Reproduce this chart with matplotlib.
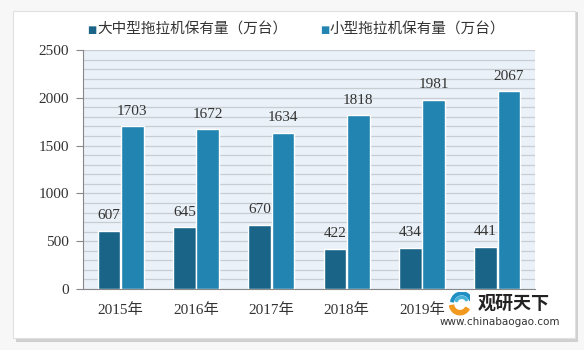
import matplotlib.pyplot as plt
from matplotlib.patches import Rectangle, Wedge
import numpy as np

plt.rcParams['font.family'] = ['Liberation Serif', 'Noto Sans CJK SC']

years = ['2015年', '2016年', '2017年', '2018年', '2019年', '2020年']
large = [607, 645, 670, 422, 434, 441]
small = [1703, 1672, 1634, 1818, 1981, 2067]
labels = ['大中型拖拉机保有量（万台）', '小型拖拉机保有量（万台）']

c_dark = '#1a6587'
c_light = '#2284b0'

fig = plt.figure(figsize=(5.84, 3.5), dpi=100)
fig.patch.set_facecolor('#f7f7f7')

# card frame with shadow
fig.patches.append(Rectangle((16 / 584, 1 - 342 / 350), 562 / 584, 330 / 350,
                             transform=fig.transFigure, facecolor='#d0d0d0',
                             edgecolor='none', zorder=-10))
fig.patches.append(Rectangle((13 / 584, 1 - 338 / 350), 562 / 584, 327 / 350,
                             transform=fig.transFigure, facecolor='white',
                             edgecolor='#e0e0e0', lw=0.8, zorder=-9))

ax = fig.add_axes([83 / 584, 1 - 289 / 350, 452 / 584, 239 / 350])
ax.set_facecolor('#eaf1f8')
x = np.arange(len(years))
w = 0.30
b1 = ax.bar(x - w / 2 - 0.005, large, w, color=c_dark, edgecolor='white', lw=1, zorder=3)
b2 = ax.bar(x + w / 2 + 0.005, small, w, color=c_light, edgecolor='white', lw=1, zorder=3)

for rect, v in zip(b1, large):
    ax.text(rect.get_x() + rect.get_width() / 2, v + 90, str(v), ha='center',
            va='bottom', fontsize=11, color='#333333', zorder=4)
for rect, v in zip(b2, small):
    ax.text(rect.get_x() + rect.get_width() / 2, v + 90, str(v), ha='center',
            va='bottom', fontsize=11, color='#333333', zorder=4)

ax.set_ylim(0, 2500)
ax.set_xlim(-0.5, 5.5)
ax.set_yticks(range(0, 2501, 500))
ax.set_yticks(range(0, 2501, 100), minor=True)
ax.grid(axis='y', which='both', color='#c8cdd2', lw=0.9, zorder=0)
ax.tick_params(axis='y', which='minor', length=0)
ax.tick_params(axis='y', which='major', length=5, color='#888888', labelsize=11,
               labelcolor='#333333', pad=5)
ax.set_xticks(x)
ax.set_xticklabels(years)
ax.tick_params(axis='x', length=0, labelsize=11, labelcolor='#333333', pad=10)
for s in ['top', 'right']:
    ax.spines[s].set_visible(False)
ax.spines['left'].set_color('#888888')
ax.spines['bottom'].set_color('#888888')

# legend
fig.text(87 / 584, 1 - 30 / 350, '■', color=c_dark, fontsize=7, va='center',
         family='DejaVu Sans')
fig.text(97 / 584, 1 - 30 / 350, labels[0], fontsize=10.5, va='center',
         color='#333333', family='Noto Sans CJK SC')
fig.text(320 / 584, 1 - 30 / 350, '■', color=c_light, fontsize=7, va='center',
         family='DejaVu Sans')
fig.text(330 / 584, 1 - 30 / 350, labels[1], fontsize=10.5, va='center',
         color='#333333', family='Noto Sans CJK SC')

# watermark (covers the last category label, as in the source image)
fig.patches.append(Rectangle((470 / 584, 1 - 330 / 350), 90 / 584, 38 / 350,
                             transform=fig.transFigure, facecolor='white',
                             edgecolor='none', zorder=4))
lax = fig.add_axes([440 / 584, 1 - 316 / 350, 40 / 584, 24 / 350])
lax.set_xlim(-1.7, 1.7)
lax.set_ylim(-1, 1)
lax.axis('off')
lax.add_patch(Wedge((0, 0), 0.9, 190, 330, width=0.35, color='#f29a1f'))
lax.add_patch(Wedge((0.15, 0.05), 0.95, 20, 170, width=0.22, color='#1f8fc4'))
lax.add_patch(Wedge((0.15, 0.05), 0.6, 30, 160, width=0.18, color='#4ab4d8'))
fig.text(478 / 584, 1 - 303 / 350, '观研天下', fontsize=13, fontweight='bold',
         va='center', ha='left', color='#222222', family='Noto Sans CJK SC', zorder=5)
fig.text(440 / 584, 1 - 322 / 350, 'www.chinabaogao.com', fontsize=7.5,
         va='center', ha='left', color='#333333', family='DejaVu Sans', zorder=5)

fig.savefig('out.png', dpi=100)
